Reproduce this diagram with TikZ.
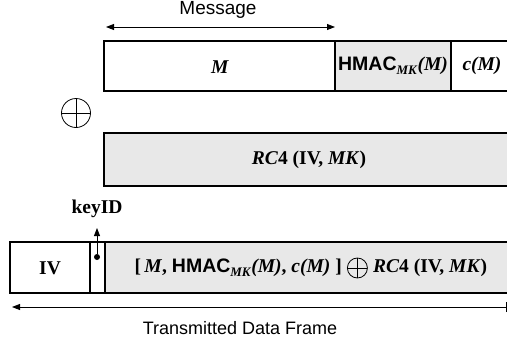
\documentclass[tikz,border=0pt]{standalone}
\usepackage{fontspec}
\setmainfont{Liberation Serif}
\setsansfont{Liberation Sans}
\usetikzlibrary{arrows.meta}
\definecolor{cellgray}{HTML}{E8E8E8}
\newcommand{\bi}[1]{\textbf{\textit{#1}}}
\newcommand{\subMK}{\raisebox{-0.45ex}{\fontsize{13}{14}\selectfont\bi{MK}}}
\begin{document}
\begin{tikzpicture}[x=1pt,y=-1pt,
  cell/.style={draw,line width=1.6pt},
  graycell/.style={cell,fill=cellgray},
  lbl/.style={font=\fontsize{19.5}{22}\selectfont\bfseries},
  sanslbl/.style={font=\fontsize{18}{22}\selectfont\sffamily},
  tip/.style={-{Triangle[length=8pt,width=6pt]},line width=0.9pt},
  xorsym/.style={circle,draw,line width=0.8pt,minimum size=#1,inner sep=0pt,
    path picture={\draw[line width=0.8pt] (path picture bounding box.north) -- (path picture bounding box.south)
      (path picture bounding box.west) -- (path picture bounding box.east);}}]
\useasboundingbox (0,0) rectangle (507,343);
% Message arrow
\coordinate (ml) at (106,27);
\coordinate (mr) at (335,27);
\draw[line width=0.9pt,{Triangle[length=8pt,width=6pt]}-{Triangle[length=8pt,width=6pt]}] (ml) -- (mr);
\node[sanslbl,font=\fontsize{19}{22}\selectfont\sffamily] (msg) at (218,10) {Message};
% top row
\path[graycell] (335,41) rectangle (451,91);
\draw[cell] (520,41) -- (104,41) -- (104,91) -- (520,91);
\draw[cell] (335,41) -- (335,91);
\draw[cell,line width=2.4pt] (451,41) -- (451,91);
\node[lbl] (m) at (220,67) {\bi{M}};
\node[lbl] (hmac) at (393,66) {\textsf{HMAC}\subMK\textit{(M)}};
\node[lbl] (cm) at (482,66) {\bi{c}\textit{(M)}};
% xor
\node[xorsym=29pt] (x1) at (76,113) {};
% rc4 row
\draw[graycell] (520,133) -- (104,133) -- (104,186) -- (520,186);
\path[fill=cellgray] (105,134) rectangle (520,185);
\node[lbl] (rc4) at (309,160) {\bi{RC}4 (IV, \bi{MK})};
% frame row
\path[fill=cellgray] (105,242) rectangle (520,293);
\draw[cell] (520,242) -- (10,242) -- (10,293) -- (520,293);
\draw[cell] (90,242) -- (90,293);
\draw[cell] (105,242) -- (105,293);
\node[lbl] (iv) at (50,268) {IV};
\node[lbl,anchor=east,inner sep=1pt] (t1) at (343,268) {[\,\bi{M}, \textsf{HMAC}\subMK\textit{(M)}, \bi{c}\textit{(M)} ]};
\node[xorsym=20pt,anchor=west] (x2) at ([xshift=4pt]t1.east) {};
\node[lbl,anchor=west,inner sep=1pt] (t2) at ([xshift=4pt]x2.east) {\bi{RC}4 (IV, \bi{MK})};
% keyID
\node[circle,fill,inner sep=0pt,minimum size=6pt] (dot) at (97,257) {};
\coordinate (kt) at (97,228);
\draw[tip] (dot) -- (kt);
\node[lbl] (kid) at (97,209) {keyID};
% frame arrow
\coordinate (fl) at (12,307);
\coordinate (fr) at (506,307);
\draw[{Triangle[length=8pt,width=6pt]}-,line width=0.9pt] (fl) -- (fr);
\draw[line width=0.9pt] ([yshift=-5pt]fr) -- ([yshift=5pt]fr);
\node[sanslbl] (tdf) at (240,328) {Transmitted Data Frame};
\end{tikzpicture}
\end{document}
